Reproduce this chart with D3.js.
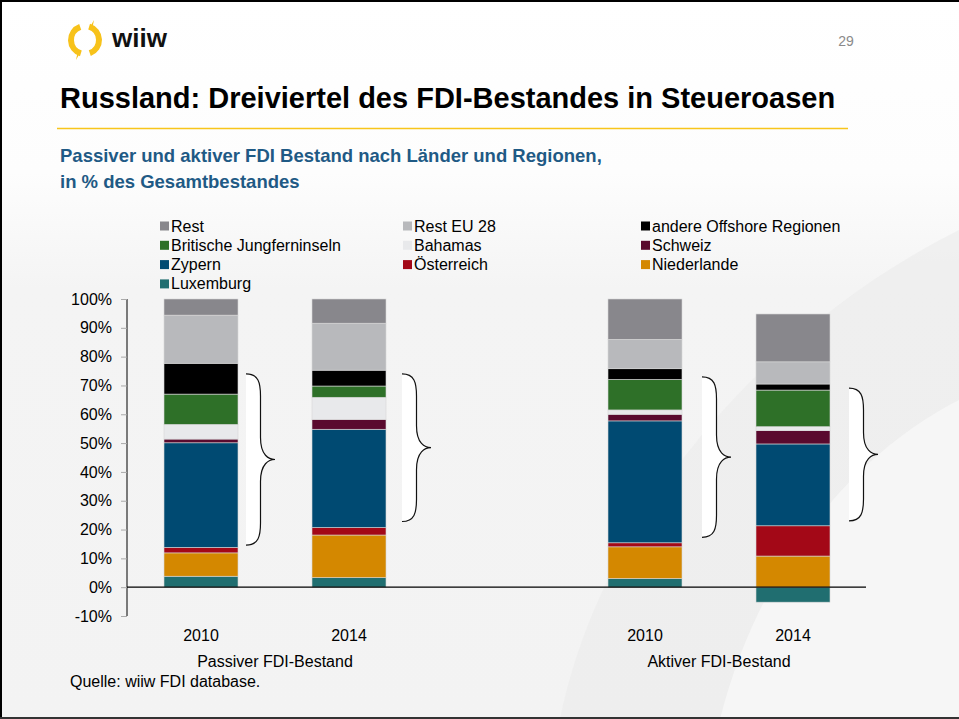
<!DOCTYPE html>
<html>
<head>
<meta charset="utf-8">
<script src="https://cdn.jsdelivr.net/npm/d3@7"></script>
<style>
  body { margin: 0; background: #fff; }
  svg { display: block; font-family: "Liberation Sans", Arial, sans-serif; }
</style>
</head>
<body>
<svg id="slide" width="959" height="719"></svg>
<script>
// categories along the x axis ("gap" is the empty slot between the two groups)
var categories = ["P2010", "P2014", "gap", "A2010", "A2014"];
var catLabels = ["2010", "2014", "", "2010", "2014"];
var groupLabels = ["Passiver FDI-Bestand", "Aktiver FDI-Bestand"];

// series, bottom of stack first
var seriesNames = ["Luxemburg", "Niederlande", "Österreich", "Zypern", "Schweiz",
                   "Bahamas", "Britische Jungferninseln", "andere Offshore Regionen",
                   "Rest EU 28", "Rest"];
var seriesColors = ["#206e70", "#d48800", "#a30817", "#004a72", "#5a0a2e",
                    "#e8e9eb", "#2e7028", "#000000", "#b8b9bc", "#88878c"];

// values in % per category (P2010, P2014, A2010, A2014)
var luxemburg   = [3.8, 3.3, 3.0, -5.2];
var niederlande = [8.1, 14.8, 11.0, 10.8];
var oesterreich = [1.9, 2.6, 1.4, 10.5];
var zypern      = [36.3, 34.1, 42.3, 28.4];
var schweiz     = [1.3, 3.4, 2.3, 4.6];
var bahamas     = [5.1, 7.7, 1.5, 1.4];
var bvi         = [10.5, 3.9, 10.6, 12.7];
var offshore    = [10.7, 5.5, 3.7, 2.1];
var restEU      = [16.7, 16.3, 10.2, 7.7];
var rest        = [5.6, 8.4, 14.0, 16.6];

// braces (value range in %) next to each bar
var braceTop    = [74.0, 74.0, 73.0, 69.1];
var braceBottom = [14.6, 22.8, 17.3, 23.0];

var yTicks = [-10, 0, 10, 20, 30, 40, 50, 60, 70, 80, 90, 100];

// legend order (rows of three)
var legendOrder = ["Rest", "Rest EU 28", "andere Offshore Regionen",
                   "Britische Jungferninseln", "Bahamas", "Schweiz",
                   "Zypern", "Österreich", "Niederlande", "Luxemburg"];

var barCats = ["P2010", "P2014", "A2010", "A2014"];
var allSeries = [luxemburg, niederlande, oesterreich, zypern, schweiz,
                 bahamas, bvi, offshore, restEU, rest];

var table = barCats.map(function(c, i) {
    var row = { cat: c };
    seriesNames.forEach(function(s, j) { row[s] = allSeries[j][i]; });
    return row;
});

var svg = d3.select("#slide");
var W = 959, H = 719;

// background
var defs = svg.append("defs");
var grad = defs.append("linearGradient").attr("id", "bg")
    .attr("x1", 0).attr("y1", 0).attr("x2", 0).attr("y2", 1);
grad.append("stop").attr("offset", "0").attr("stop-color", "#ffffff");
grad.append("stop").attr("offset", "0.24").attr("stop-color", "#fdfdfd");
grad.append("stop").attr("offset", "0.4").attr("stop-color", "#f4f4f4");
grad.append("stop").attr("offset", "1").attr("stop-color", "#f3f3f3");
svg.append("rect").attr("width", W).attr("height", H).attr("fill", "url(#bg)");

// faint swoosh behind right part
svg.append("path")
    .attr("d", "M560,719 C600,520 760,330 959,230 L959,719 Z")
    .attr("fill", "#ebebeb").attr("opacity", 0.6);
svg.append("path")
    .attr("d", "M720,719 C760,560 860,450 959,400 L959,719 Z")
    .attr("fill", "#f6f6f6").attr("opacity", 0.9);

// logo
var logo = svg.append("g").attr("transform", "translate(85,40)");
var ring = d3.arc().innerRadius(11).outerRadius(17);
logo.append("path")
    .attr("d", ring({ startAngle: 0.3, endAngle: Math.PI - 0.35 }))
    .attr("fill", "#f7c21a");
logo.append("path")
    .attr("d", ring({ startAngle: Math.PI + 0.3, endAngle: 2 * Math.PI - 0.35 }))
    .attr("fill", "#f7c21a");
logo.append("path").attr("d", "M4,-11 L9,-20 L7,-10 Z").attr("fill", "#f7c21a");
logo.append("path").attr("d", "M-4,11 L-9,20 L-7,10 Z").attr("fill", "#f7c21a");
svg.append("text").attr("x", 112).attr("y", 47)
    .style("font-size", "26px").style("font-weight", "bold").attr("fill", "#111")
    .text("wiiw");

svg.append("text").attr("x", 846).attr("y", 46).attr("text-anchor", "middle")
    .style("font-size", "14px").attr("fill", "#8a8a8a").text("29");

// title
svg.append("text").attr("x", 60).attr("y", 108)
    .style("font-size", "29px").style("font-weight", "bold").attr("fill", "#000")
    .text("Russland: Dreiviertel des FDI-Bestandes in Steueroasen");
svg.append("line").attr("x1", 57).attr("x2", 848).attr("y1", 128.5).attr("y2", 128.5)
    .attr("stroke", "#f8c51c").attr("stroke-width", 1.3);

svg.append("text").attr("x", 60).attr("y", 162)
    .style("font-size", "18.5px").style("font-weight", "bold").attr("fill", "#1f5a85")
    .text("Passiver und aktiver FDI Bestand nach Länder und Regionen,");
svg.append("text").attr("x", 60).attr("y", 188)
    .style("font-size", "18.5px").style("font-weight", "bold").attr("fill", "#1f5a85")
    .text("in % des Gesamtbestandes");

// legend
var colorOf = d3.scaleOrdinal().domain(seriesNames).range(seriesColors);
var legendX = [160, 403, 641];
var legend = svg.append("g");
legendOrder.forEach(function(name, i) {
    var gx = legendX[i % 3], gy = 226 + Math.floor(i / 3) * 19.3;
    legend.append("rect").attr("x", gx).attr("y", gy - 4.5).attr("width", 9).attr("height", 9)
        .attr("fill", colorOf(name));
    legend.append("text").attr("x", gx + 11).attr("y", gy + 5.5)
        .style("font-size", "16px").attr("fill", "#000").text(name);
});

// scales
var x = d3.scaleBand().domain(categories).range([127, 867])
    .paddingInner(0.5).paddingOuter(0.25);
var y = d3.scaleLinear().domain([-10, 100]).range([616, 299]);

// y axis
var yAxis = svg.append("g").attr("transform", "translate(127,0)")
    .call(d3.axisLeft(y).tickValues(yTicks).tickSize(6).tickPadding(9)
        .tickFormat(function(d) { return d + "%"; }));
yAxis.select(".domain").attr("stroke", "#000").attr("d", "M0," + y(-10) + "V" + y(100));
yAxis.selectAll(".tick line").attr("stroke", "#aaa");
yAxis.selectAll(".tick text").style("font-size", "16px").attr("fill", "#000")
    .style("font-family", "'Liberation Sans', Arial, sans-serif");

// stacked bars
var stack = d3.stack().keys(seriesNames).offset(d3.stackOffsetDiverging);
var layers = stack(table);

var bars = svg.append("g");
bars.selectAll("g")
    .data(layers)
    .enter().append("g")
    .attr("fill", function(d) { return colorOf(d.key); })
    .selectAll("rect")
    .data(function(d) { return d; })
    .enter().append("rect")
    .attr("x", function(d) { return x(d.data.cat); })
    .attr("width", x.bandwidth())
    .attr("y", function(d) { return y(Math.max(d[0], d[1])); })
    .attr("height", function(d) { return Math.abs(y(d[0]) - y(d[1])); })
    .attr("stroke", "#d8d8d8").attr("stroke-width", 0.6);

// zero line
svg.append("line").attr("x1", 127).attr("x2", 866)
    .attr("y1", y(0)).attr("y2", y(0)).attr("stroke", "#000").attr("stroke-width", 1.2);

// braces
var braceGap = [8, 16, 20, 19];
var braceW = 29;
function bracePath(x0, y0, y1, w) {
    var xm = x0 + w * 0.5, ym = (y0 + y1) / 2, r = 22;
    return "M" + x0 + "," + y0 +
        " C" + (xm - 2) + "," + y0 + " " + xm + "," + (y0 + r * 0.4) + " " + xm + "," + (y0 + r) +
        " L" + xm + "," + (ym - r) +
        " C" + xm + "," + (ym - 4) + " " + (x0 + w - 6) + "," + ym + " " + (x0 + w) + "," + ym +
        " C" + (x0 + w - 6) + "," + ym + " " + xm + "," + (ym + 4) + " " + xm + "," + (ym + r) +
        " L" + xm + "," + (y1 - r) +
        " C" + xm + "," + (y1 - r * 0.4) + " " + (xm - 2) + "," + y1 + " " + x0 + "," + y1;
}
barCats.forEach(function(c, i) {
    var x0 = x(c) + x.bandwidth() + braceGap[i];
    var y0 = y(braceTop[i]), y1 = y(braceBottom[i]);
    svg.append("path").attr("d", bracePath(x0, y0, y1, braceW) + " Z")
        .attr("fill", "#fff").attr("stroke", "none");
    svg.append("path").attr("d", bracePath(x0, y0, y1, braceW))
        .attr("fill", "none").attr("stroke", "#111").attr("stroke-width", 1.2);
});

// category labels
svg.append("g").selectAll("text")
    .data(categories)
    .enter().append("text")
    .attr("x", function(d) { return x(d) + x.bandwidth() / 2; })
    .attr("y", 641)
    .attr("text-anchor", "middle")
    .style("font-size", "16px").attr("fill", "#000")
    .text(function(d, i) { return catLabels[i]; });

var groupCenters = [
    (x("P2010") + x("P2014") + x.bandwidth()) / 2,
    (x("A2010") + x("A2014") + x.bandwidth()) / 2
];
svg.append("g").selectAll("text")
    .data(groupLabels)
    .enter().append("text")
    .attr("x", function(d, i) { return groupCenters[i]; })
    .attr("y", 667)
    .attr("text-anchor", "middle")
    .style("font-size", "16px").attr("fill", "#000")
    .text(function(d) { return d; });

svg.append("text").attr("x", 70).attr("y", 687)
    .style("font-size", "16px").attr("fill", "#000")
    .text("Quelle: wiiw FDI database.");

// slide frame
svg.append("path").attr("d", "M1,719 V1 H959").attr("fill", "none")
    .attr("stroke", "#000").attr("stroke-width", 2);
svg.append("line").attr("x1", 0).attr("x2", 959).attr("y1", 718).attr("y2", 718)
    .attr("stroke", "#333").attr("stroke-width", 2);
</script>
</body>
</html>
